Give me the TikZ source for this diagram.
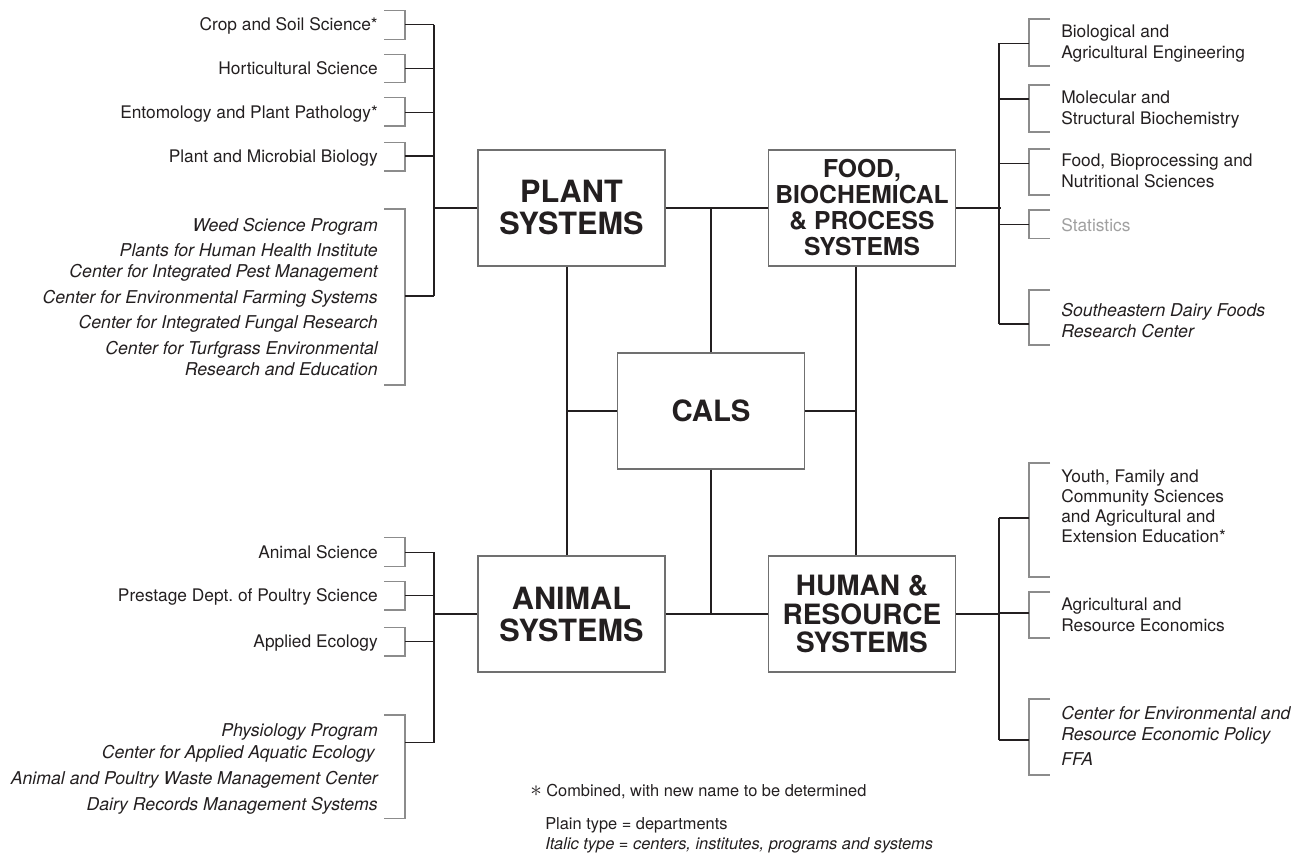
\documentclass[tikz,border=0pt]{standalone}
\usepackage{fontspec}
\setmainfont{TeX Gyre Heros}
\usepackage{xcolor}
\usetikzlibrary{positioning}
\definecolor{ink}{HTML}{231F20}
\definecolor{brkgray}{HTML}{8C8C8C}
\definecolor{boxgray}{HTML}{707070}
\definecolor{statgray}{HTML}{A0A0A0}
\tikzset{
  sysbox/.style={draw=boxgray,line width=1pt,minimum width=140.25pt,minimum height=87pt,
    inner sep=0pt,align=center,text=ink,font=\bfseries\fontsize{23pt}{24pt}\selectfont},
  dept/.style={inner sep=0pt,text=ink,font=\fontsize{13pt}{15.75pt}\selectfont},
  ctr/.style={dept,font=\itshape\fontsize{13.25pt}{15.75pt}\selectfont},
  legend/.style={dept,anchor=base west,font=\fontsize{12.3pt}{15pt}\selectfont},
  con/.style={draw=ink,line width=0.8pt},
  brk/.style={draw=brkgray,line width=0.8pt}
}
\begin{document}
\begin{tikzpicture}[x=0.75pt,y=-0.75pt]
\useasboundingbox (0,0) rectangle (1291,853);
% the five system boxes
\node[sysbox] (plant) at (571.5,208) {PLANT\\SYSTEMS};
\node[sysbox,font=\bfseries\fontsize{18.5pt}{19.5pt}\selectfont] (food) at (862,208) {FOOD,\\BIOCHEMICAL\\\& PROCESS\\SYSTEMS};
\node[sysbox,font=\bfseries\fontsize{22pt}{24pt}\selectfont] (cals) at (711,411) {CALS};
\node[sysbox] (animal) at (571.5,614) {ANIMAL\\SYSTEMS};
\node[sysbox,font=\bfseries\fontsize{21pt}{21.5pt}\selectfont] (human) at (862,614) {HUMAN \&\\RESOURCE\\SYSTEMS};
\coordinate (pdrop) at ([xshift=-3.4pt]plant.south);
\coordinate (fdrop) at ([xshift=-4.5pt]food.south);
\draw[con] (plant) -- (food);
\draw[con] (animal) -- (human);
\draw[con] (cals.north) -- (cals.north |- plant.east);
\draw[con] (cals.south) -- (cals.south |- animal.east);
\draw[con] (pdrop) -- (pdrop |- animal.north);
\draw[con] (fdrop) -- (fdrop |- human.north);
\draw[con] (cals.west) -- (cals.west -| pdrop);
\draw[con] (cals.east) -- (cals.east -| fdrop);
% trunks
\coordinate (ptop) at (434,24.7);  \coordinate (pbot) at (434,296);
\coordinate (atop) at (434,552.3); \coordinate (abot) at (434,742.7);
\coordinate (ftop) at (999,43.3);  \coordinate (fbot) at (999,324);
\coordinate (htop) at (999,518);   \coordinate (hbot) at (999,740);
\draw[con] (ptop) -- (pbot);
\draw[con] (atop) -- (abot);
\draw[con] (ftop) -- (fbot);
\draw[con] (htop) -- (hbot);
\draw[con] (plant.west) -- (plant.west -| ptop);
\draw[con] (animal.west) -- (animal.west -| atop);
\draw[con] (food.east) -- ([xshift=1.5pt]food.east -| ftop);
\draw[con] (human.east) -- (human.east -| htop);
% brackets
\foreach \t/\b/\m in {10.7/39.3/24.7,54.3/82.7/68.3,97.7/126/112.7,142.7/171/156,209/385/296,
  537.7/566.7/552.3,581.3/610/595.3,627.3/656/641.3,715/818.7/742.7}{
  \draw[brk] (384,\t) -| (405,\b) -- (384,\b);
  \draw[con] (405,\m) -- (434,\m);
}
\foreach \t/\b/\m in {19/66/43.3,85/132/99,149/195/163.3,210/238.3/224.3,290/345/324,
  463/577/518,592/638/613,699/775/740}{
  \draw[brk] (1050,\t) -| (1029,\b) -- (1050,\b);
  \draw[con] (1029,\m) -- (999,\m);
}
% plant systems units
\node[dept,anchor=base east] (crop) at (378,30.7) {Crop and Soil Science*};
\node[dept,anchor=base east] (hort) at (378,74.3) {Horticultural Science};
\node[dept,anchor=base east] (ento) at (378,118.7) {Entomology and Plant Pathology*};
\node[dept,anchor=base east] (pmb) at (378,162) {Plant and Microbial Biology};
\node[ctr,anchor=base east] (weed) at (378,231) {Weed Science Program};
\node[ctr,anchor=base east] (phhi) at (378,256) {Plants for Human Health Institute};
\node[ctr,anchor=base east] (cipm) at (378,277) {Center for Integrated Pest Management};
\node[ctr,anchor=base east] (cefs) at (378,303) {Center for Environmental Farming Systems};
\node[ctr,anchor=base east] (cifr) at (378,328.3) {Center for Integrated Fungal Research};
\node[ctr,anchor=base east,align=right] (cter) at (378,375.3) {Center for Turfgrass Environmental\\Research and Education};
% animal systems units
\node[dept,anchor=base east] (ansci) at (378,558.3) {Animal Science};
\node[dept,anchor=base east] (poultry) at (378,601.3) {Prestage Dept.\ of Poultry Science};
\node[dept,anchor=base east] (appeco) at (378,647.3) {Applied Ecology};
\node[ctr,anchor=base east] (physio) at (378,736) {Physiology Program};
\node[ctr,anchor=base east] (caae) at (375,758.7) {Center for Applied Aquatic Ecology};
\node[ctr,anchor=base east] (apwm) at (378,784.7) {Animal and Poultry Waste Management Center};
\node[ctr,anchor=base east] (drms) at (378,810.3) {Dairy Records Management Systems};
% food, biochemical and process systems units
\node[dept,anchor=base west,align=left] (bae) at (1061,58.7) {Biological and\\Agricultural Engineering};
\node[dept,anchor=base west,align=left] (msb) at (1061,124.3) {Molecular and\\Structural Biochemistry};
\node[dept,anchor=base west,align=left] (fbns) at (1061,187.7) {Food, Bioprocessing and\\Nutritional Sciences};
\node[dept,anchor=base west,text=statgray] (stat) at (1061,231) {Statistics};
\node[ctr,anchor=base west,align=left] (sedfrc) at (1061,337.7) {Southeastern Dairy Foods\\Research Center};
% human and resource systems units
\node[dept,anchor=base west,align=left,font=\fontsize{13pt}{14.8pt}\selectfont] (yfcs) at (1061,542) {Youth, Family and\\Community Sciences\\and Agricultural and\\Extension Education*};
\node[dept,anchor=base west,align=left] (are) at (1061,631) {Agricultural and\\Resource Economics};
\node[ctr,anchor=base west,align=left] (cerep) at (1061,740) {Center for Environmental and\\Resource Economic Policy};
\node[ctr,anchor=base west] (ffa) at (1061,765) {FFA};
% legend
\node[legend] (note) at (530,796) {{\fontsize{17pt}{17pt}\selectfont$\ast$} Combined, with new name to be determined};
\node[legend] (plain) at (545,829) {Plain type = departments};
\node[legend,font=\itshape\fontsize{12.3pt}{15pt}\selectfont] (italic) at (545,849) {Italic type = centers, institutes, programs and systems};
\end{tikzpicture}
\end{document}
